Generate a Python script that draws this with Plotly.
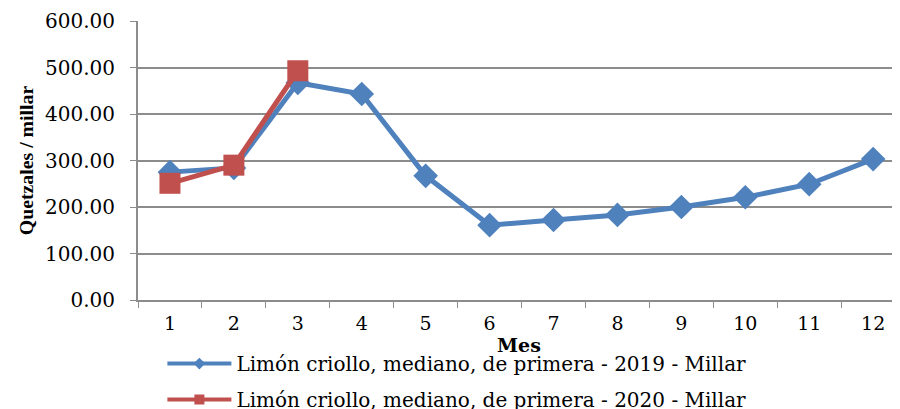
import plotly.graph_objects as go

# --- DATOS ---
MESES = ["1", "2", "3", "4", "5", "6", "7", "8", "9", "10", "11", "12"]
PRECIO_2019 = [275, 284, 467, 443, 267, 161, 172, 183, 200, 221, 249, 303]
MESES_2020 = ["1", "2", "3"]
PRECIO_2020 = [251, 290, 493]

NOMBRE_2019 = "Limón criollo, mediano, de primera - 2019 - Millar"
NOMBRE_2020 = "Limón criollo, mediano, de primera - 2020 - Millar"

Y_TICKS = [0, 100, 200, 300, 400, 500, 600]

AZUL = "#4F81BD"
ROJO = "#C0504D"
GRIS = "#8C8C8C"
FUENTE = "DejaVu Serif"

SERIES = [
    (MESES, PRECIO_2019, NOMBRE_2019, AZUL, "diamond", 19, 9),
    (MESES_2020, PRECIO_2020, NOMBRE_2020, ROJO, "square", 21, 10),
]

fig = go.Figure()

for i, (xs, ys, nombre, color, simbolo, tam, tam_leyenda) in enumerate(SERIES):
    # serie en el gráfico
    fig.add_trace(go.Scatter(
        x=xs, y=ys,
        mode="lines+markers",
        name=nombre,
        showlegend=False,
        line=dict(color=color, width=5),
        marker=dict(symbol=simbolo, size=tam, color=color),
    ))
    # muestra de leyenda con marcador pequeño (como Excel)
    fig.add_trace(go.Scatter(
        x=[None], y=[None],
        mode="lines+markers",
        name=nombre,
        legendgroup=f"g{i}",
        line=dict(color=color, width=4),
        marker=dict(symbol=simbolo, size=tam_leyenda, color=color),
    ))

# --- EJES ---
fig.update_xaxes(
    type="category",
    categoryorder="array",
    categoryarray=MESES,
    range=[-0.5, 11.42],
    tickson="boundaries",
    ticks="outside",
    ticklen=6,
    tickcolor=GRIS,
    ticklabelstandoff=5,
    showline=True,
    linecolor=GRIS,
    linewidth=2,
    showgrid=False,
    automargin=False,
    tickfont=dict(family=FUENTE, size=19, color="black"),
    title=dict(text="<b>Mes</b>", font=dict(family=FUENTE, size=19, color="black"),
               standoff=6),
)

fig.update_yaxes(
    range=[0, 600],
    tickvals=Y_TICKS,
    ticktext=[f"{v:.2f}" for v in Y_TICKS],
    ticks="outside",
    ticklen=6,
    tickcolor=GRIS,
    ticklabelstandoff=11,
    showline=True,
    linecolor=GRIS,
    linewidth=2,
    gridcolor=GRIS,
    gridwidth=1.5,
    zeroline=False,
    automargin=False,
    tickfont=dict(family=FUENTE, size=20, color="black"),
    title=dict(text="<b>Quetzales / millar</b>",
               font=dict(family="Liberation Serif", size=19.8, color="black"),
               standoff=6),
)

# --- LAYOUT ---
# el body de la página deja 8 px de margen; el papel es más alto para que
# la leyenda quepa sin empujar el área del gráfico
fig.update_layout(
    width=900,
    height=420,
    margin=dict(l=130, r=8, t=13, b=128),
    paper_bgcolor="white",
    plot_bgcolor="white",
    showlegend=True,
    legend=dict(
        orientation="v",
        x=0.032, xanchor="left",
        y=-0.158, yanchor="top",
        traceorder="grouped",
        tracegroupgap=7,
        itemwidth=64,
        font=dict(family=FUENTE, size=20, color="black"),
        bgcolor="rgba(0,0,0,0)",
    ),
)

fig.write_html("out.html")
